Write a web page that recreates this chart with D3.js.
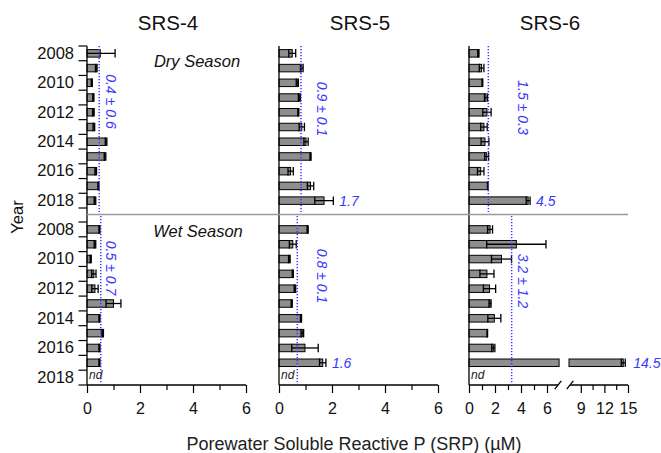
<!DOCTYPE html>
<html>
<head>
<meta charset="utf-8">
<script src="https://cdn.jsdelivr.net/npm/d3@7"></script>
<style>
  body { margin: 0; background: #fff; }
  svg { display: block; font-family: "Liberation Sans", Arial, sans-serif; }
</style>
</head>
<body>
<svg id="chart" width="661" height="453"></svg>
<script>
// ---- data (µM) ----
const years = [2008, 2009, 2010, 2011, 2012, 2013, 2014, 2015, 2016, 2017, 2018];
const sites = ['SRS-4', 'SRS-5', 'SRS-6'];

const srs4DryMean = [0.50, 0.35, 0.18, 0.24, 0.24, 0.26, 0.72, 0.68, 0.33, 0.43, 0.30];
const srs4DrySd   = [0.56, 0.03, 0.02, 0.02, 0.03, 0.03, 0.03, 0.03, 0.03, 0.02, 0.03];
const srs4WetMean = [0.47, 0.30, 0.14, 0.26, 0.30, 1.00, 0.47, 0.59, 0.47, 0.47, null];
const srs4WetSd   = [0.02, 0.03, 0.02, 0.08, 0.12, 0.28, 0.02, 0.03, 0.02, 0.02, null];

const srs5DryMean = [0.50, 0.86, 0.69, 0.77, 0.73, 0.86, 1.02, 1.19, 0.44, 1.19, 1.70];
const srs5DrySd   = [0.13, 0.05, 0.04, 0.04, 0.02, 0.10, 0.08, 0.02, 0.10, 0.12, 0.35];
const srs5WetMean = [1.08, 0.52, 0.39, 0.52, 0.60, 0.48, 0.83, 0.88, 0.98, 1.65, null];
const srs5WetSd   = [0.02, 0.13, 0.03, 0.02, 0.03, 0.02, 0.02, 0.05, 0.50, 0.12, null];

const srs6DryMean = [0.72, 0.97, 1.03, 1.31, 1.38, 1.15, 1.23, 1.36, 0.90, 1.44, 4.55];
const srs6DrySd   = [0.05, 0.18, 0.03, 0.12, 0.32, 0.25, 0.30, 0.15, 0.25, 0.02, 0.15];
const srs6WetMean = [1.62, 3.64, 2.50, 1.38, 1.58, 1.62, 1.95, 1.41, 1.87, 14.4, null];
const srs6WetSd   = [0.19, 2.28, 0.77, 0.54, 0.47, 0.08, 0.50, 0.02, 0.12, 0.25, null];

// long-term averages (dotted lines) and their labels
const dryAvg = [0.46, 0.83, 1.49];
const wetAvg = [0.52, 0.69, 3.28];
const dryAvgText = ['0.4 ± 0.6', '0.9 ± 0.1', '1.5 ± 0.3'];
const wetAvgText = ['0.5 ± 0.7', '0.8 ± 0.1', '3.2 ± 1.2'];

// axis ticks
const xTicks = [0, 2, 4, 6];
const xMinor = [1, 3, 5];
const srs6TicksLow = [0, 2, 4, 6];
const srs6TicksHigh = [9, 12, 15];
const srs6MinorHigh = [10.5, 13.5];

// ---- layout ----
const svg = d3.select('#chart');
const BLUE = '#3838ff';
const axisLeftX = [87, 279, 469];
const axisY = 385;
const barH = 7.5;
const capH = 8.5;
const fmt = d3.format('d');

const xs = [
  d3.scaleLinear().domain([0, 6]).range([87, 246]),
  d3.scaleLinear().domain([0, 6]).range([279, 438])
];
// SRS-6 uses a broken axis: 0-7 then 7.5-15
const x6lo = d3.scaleLinear().domain([0, 7]).range([469, 560]);
const x6hi = d3.scaleLinear().domain([7.5, 15]).range([569, 628]);
const x6 = v => (v <= 7.25 ? x6lo(v) : x6hi(v));
xs.push(x6);

// bar pieces, so the long SRS-6 bar gets its break
function barPieces(i, v) {
  if (i === 2 && v > 7) return [[x6lo(0), x6lo(6.93)], [x6hi(7.5), x6hi(v)]];
  return [[xs[i](0), xs[i](v)]];
}

const yDry = d3.scaleBand().domain(years).range([46, 208]);
const yWet = d3.scaleBand().domain(years).range([222, 385]);

const seasons = [
  {
    name: 'Dry Season', y: yDry,
    means: [srs4DryMean, srs5DryMean, srs6DryMean],
    sds: [srs4DrySd, srs5DrySd, srs6DrySd],
    avg: dryAvg, avgText: dryAvgText,
    avgPos: [[110.5, 101.5], [322, 109], [522.5, 107.5]],
    lineY: [46, 212], labelPos: [197, 67],
    callouts: [null, '1.7', '4.5']
  },
  {
    name: 'Wet Season', y: yWet,
    means: [srs4WetMean, srs5WetMean, srs6WetMean],
    sds: [srs4WetSd, srs5WetSd, srs6WetSd],
    avg: wetAvg, avgText: wetAvgText,
    avgPos: [[110.5, 268], [322, 276], [522.5, 281]],
    lineY: [216, 384], labelPos: [198, 237],
    callouts: [null, '1.6', '14.5']
  }
];

// ---- panels ----
sites.forEach((site, i) => {
  const g = svg.append('g').attr('class', 'panel');
  const x = xs[i];

  // title
  g.append('text')
    .attr('x', axisLeftX[i] + 81).attr('y', 30)
    .attr('text-anchor', 'middle')
    .attr('font-size', 20.5).attr('fill', '#111')
    .text(site);

  seasons.forEach(s => {
    const rows = years.map((yr, j) => ({ yr, m: s.means[i][j], sd: s.sds[i][j] }));
    const data = rows.filter(d => d.m != null);
    const cy = d => s.y(d.yr) + s.y.bandwidth() / 2;

    // bars
    data.forEach(d => {
      barPieces(i, d.m).forEach(([a, b]) => {
        g.append('rect')
          .attr('x', a).attr('y', cy(d) - barH / 2)
          .attr('width', b - a).attr('height', barH)
          .attr('fill', '#8e8e8e').attr('stroke', '#000').attr('stroke-width', 1);
      });
    });

    // error bars
    const eb = g.append('g').attr('stroke', '#000').attr('stroke-width', 1.3);
    data.forEach(d => {
      const lo = Math.max(0, d.m - d.sd), hi = d.m + d.sd;
      const y = cy(d);
      eb.append('line').attr('x1', x(lo)).attr('x2', x(hi)).attr('y1', y).attr('y2', y);
      eb.append('line').attr('x1', x(hi)).attr('x2', x(hi)).attr('y1', y - capH / 2).attr('y2', y + capH / 2);
      if (d.m - d.sd > 0) {
        eb.append('line').attr('x1', x(lo)).attr('x2', x(lo)).attr('y1', y - capH / 2).attr('y2', y + capH / 2);
      }
    });

    // "nd" for missing years
    rows.filter(d => d.m == null).forEach(d => {
      g.append('text')
        .attr('x', axisLeftX[i] + 2).attr('y', cy(d) + 1)
        .attr('font-size', 12).attr('font-style', 'italic').attr('fill', '#222')
        .text('nd');
    });

    // dotted average line
    g.append('line')
      .attr('x1', x(s.avg[i])).attr('x2', x(s.avg[i]))
      .attr('y1', s.lineY[0]).attr('y2', s.lineY[1])
      .attr('stroke', BLUE).attr('stroke-width', 1.5)
      .attr('stroke-dasharray', '1.3 1.7');

    g.append('text')
      .attr('transform', `translate(${s.avgPos[i][0]},${s.avgPos[i][1]}) rotate(90)`)
      .attr('text-anchor', 'middle').attr('dominant-baseline', 'central')
      .attr('font-size', 14).attr('font-style', 'italic').attr('fill', BLUE)
      .text(s.avgText[i]);

    // value callout on the largest bar
    if (s.callouts[i]) {
      const top = data.reduce((a, b) => (b.m > a.m ? b : a));
      g.append('text')
        .attr('x', x(top.m + top.sd) + (top.m > 7 ? 8 : 6))
        .attr('y', cy(top)).attr('dominant-baseline', 'central')
        .attr('font-size', 14).attr('font-style', 'italic').attr('fill', BLUE)
        .text(s.callouts[i]);
    }
  });

  // vertical axis line
  g.append('line')
    .attr('x1', axisLeftX[i]).attr('x2', axisLeftX[i])
    .attr('y1', 46).attr('y2', axisY)
    .attr('stroke', '#000').attr('stroke-width', 1.3);

  // x axis
  const ax = g.append('g').attr('transform', `translate(0,${axisY})`);
  const styleAxis = sel => {
    sel.select('.domain').remove();
    sel.selectAll('line').attr('stroke', '#000').attr('stroke-width', 1.2);
    sel.selectAll('text').attr('font-size', 16).attr('fill', '#111')
      .attr('font-family', '"Liberation Sans", Arial, sans-serif');
  };
  const major = sc => d3.axisBottom(sc).tickSize(8).tickPadding(9.5).tickFormat(fmt);
  const minor = sc => d3.axisBottom(sc).tickSize(5).tickFormat('');
  if (i < 2) {
    ax.append('g').call(major(x).tickValues(xTicks)).call(styleAxis);
    ax.append('g').call(minor(x).tickValues(xMinor)).call(styleAxis);
    ax.append('line').attr('x1', x(0)).attr('x2', x(6)).attr('stroke', '#000').attr('stroke-width', 1.3);
  } else {
    ax.append('g').call(major(x6lo).tickValues(srs6TicksLow)).call(styleAxis);
    ax.append('g').call(minor(x6lo).tickValues(xMinor)).call(styleAxis);
    ax.append('g').call(major(x6hi).tickValues(srs6TicksHigh)).call(styleAxis);
    ax.append('g').call(minor(x6hi).tickValues(srs6MinorHigh)).call(styleAxis);
    const bx1 = x6lo(6.85), bx2 = x6hi(7.63);
    ax.append('line').attr('x1', x6lo(0)).attr('x2', bx1).attr('stroke', '#000').attr('stroke-width', 1.3);
    ax.append('line').attr('x1', bx2).attr('x2', x6hi(15)).attr('stroke', '#000').attr('stroke-width', 1.3);
    [bx1, bx2].forEach(bx => {
      ax.append('line')
        .attr('x1', bx - 3.3).attr('y1', 4.2).attr('x2', bx + 3.3).attr('y2', -4.2)
        .attr('stroke', '#000').attr('stroke-width', 1.3);
    });
  }
});

// ---- year axis (SRS-4 only) ----
seasons.forEach(s => {
  const ya = svg.append('g').attr('transform', `translate(${axisLeftX[0]},0)`);
  ya.call(d3.axisLeft(s.y).tickSize(0).tickPadding(13).tickFormat(d => (d % 2 === 0 ? d : '')));
  ya.select('.domain').remove();
  ya.selectAll('text').attr('font-size', 16.5).attr('fill', '#111')
    .attr('font-family', '"Liberation Sans", Arial, sans-serif');
  // ticks sit on the row boundaries
  const bounds = years.map(yr => s.y(yr)).concat([s.y.range()[1]]);
  ya.selectAll('.bound').data(bounds).enter().append('line')
    .attr('class', 'bound')
    .attr('x1', -8.5).attr('x2', 0).attr('y1', d => d).attr('y2', d => d)
    .attr('stroke', '#000').attr('stroke-width', 1.2);

  svg.append('text')
    .attr('x', s.labelPos[0]).attr('y', s.labelPos[1])
    .attr('text-anchor', 'middle')
    .attr('font-size', 16.5).attr('font-style', 'italic').attr('fill', '#111')
    .text(s.name);
});

// separator between the two seasons
svg.append('line')
  .attr('x1', 87).attr('x2', 628).attr('y1', 214.5).attr('y2', 214.5)
  .attr('stroke', '#9a9a9a').attr('stroke-width', 1.5);

// axis titles
svg.append('text')
  .attr('transform', 'translate(17,217) rotate(-90)')
  .attr('text-anchor', 'middle').attr('dominant-baseline', 'central')
  .attr('font-size', 16.5).attr('fill', '#111')
  .text('Year');

svg.append('text')
  .attr('x', 354).attr('y', 450)
  .attr('text-anchor', 'middle')
  .attr('font-size', 18).attr('fill', '#222')
  .text('Porewater Soluble Reactive P (SRP) (µM)');
</script>
</body>
</html>
